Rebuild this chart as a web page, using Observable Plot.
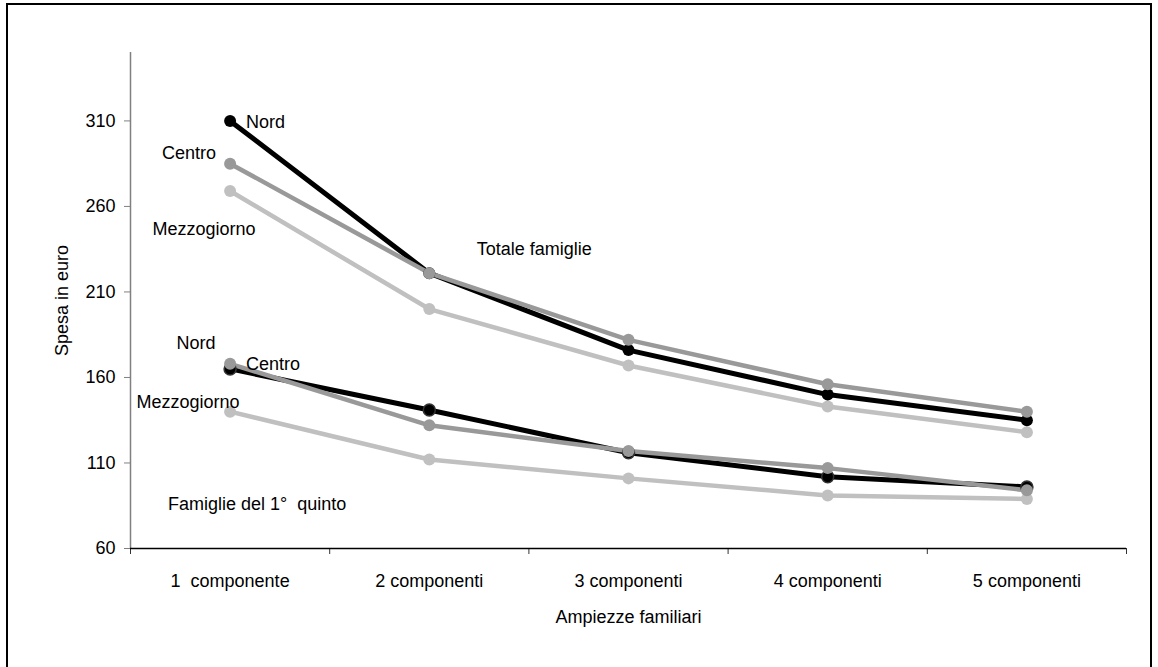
<!DOCTYPE html>
<html>
<head>
<meta charset="utf-8">
<script src="https://cdn.jsdelivr.net/npm/d3@7"></script>
<script src="https://cdn.jsdelivr.net/npm/@observablehq/plot@0.6"></script>
<style>
  html, body { margin: 0; padding: 0; background: #fff; }
  #wrap { position: relative; width: 1158px; height: 667px; overflow: hidden; }
  #border { position: absolute; left: 6px; top: 3px; width: 1142px; height: 700px; border: 2px solid #000; box-sizing: content-box; }
  #chart { position: absolute; left: 0; top: 0; }
</style>
</head>
<body>
<div id="wrap"><div id="border"></div><div id="chart"></div></div>
<script>
const categories = ["1  componente", "2 componenti", "3 componenti", "4 componenti", "5 componenti"];
const seriesNames = ["Nord", "Centro", "Mezzogiorno"];
const totNord   = [310, 221, 176, 150, 135];
const totCentro = [285, 221, 182, 156, 140];
const totMezz   = [269, 200, 167, 143, 128];
const q1Nord    = [165, 141, 116, 102, 96];
const q1Centro  = [168, 132, 117, 107, 94];
const q1Mezz    = [140, 112, 101, 91, 89];
const yTicks = [60, 110, 160, 210, 260, 310];

const colors = {Nord: "#000000", Centro: "#999999", Mezzogiorno: "#c0c0c0"};

function rows(group, name, values) {
  return values.map((v, i) => ({group, name, i, x: i + 0.5, y: v}));
}
const drawOrder = [
  ["tot", "Mezzogiorno", totMezz], ["tot", "Nord", totNord], ["tot", "Centro", totCentro],
  ["q1", "Mezzogiorno", q1Mezz], ["q1", "Nord", q1Nord], ["q1", "Centro", q1Centro]
];
const series = drawOrder.map(([g, n, v]) => rows(g, n, v));

// annotation labels (category index, value, pixel offset)
const labels = [
  {text: "Nord", i: 0, y: 309, dx: 16, anchor: "start"},
  {text: "Centro", i: 0, y: 291, dx: -41, anchor: "middle"},
  {text: "Mezzogiorno", i: 0, y: 246.5, dx: -26, anchor: "middle"},
  {text: "Totale famiglie", i: 1, y: 235, dx: 105, anchor: "middle"},
  {text: "Nord", i: 0, y: 180, dx: -34, anchor: "middle"},
  {text: "Centro", i: 0, y: 167.6, dx: 43, anchor: "middle"},
  {text: "Mezzogiorno", i: 0, y: 145.4, dx: -42, anchor: "middle"},
  {text: "Famiglie del 1°  quinto", i: 0, y: 85.7, dx: 27, anchor: "middle"}
];

const marks = [];
marks.push(Plot.ruleX([0], {y1: 60, y2: 350, stroke: "#808080", strokeWidth: 1.5}));
marks.push(Plot.axisY({ticks: yTicks, tickSize: 6, tickPadding: 9, fontSize: 18, stroke: "#808080",
  label: "Spesa in euro", labelAnchor: "center", labelArrow: "none", labelOffset: 75}));
marks.push(Plot.axisX({ticks: [0, 1, 2, 3, 4, 5], tickSize: 6, tickFormat: () => "", stroke: "#333", label: null}));
marks.push(Plot.axisX({ticks: [0.5, 1.5, 2.5, 3.5, 4.5], tickSize: 0, tickPadding: 26, fontSize: 18,
  tickFormat: d => categories[Math.floor(d)], label: "Ampiezze familiari", labelAnchor: "center", labelArrow: "none", labelOffset: 74}));
marks.push(Plot.ruleY([60], {x1: 0, x2: 5, stroke: "#000", strokeWidth: 1.5}));
for (const s of series) {
  const name = s[0].name;
  marks.push(Plot.line(s, {x: "x", y: "y", stroke: colors[name], strokeWidth: name === "Nord" ? 5 : 4.5}));
}
for (const s of series) {
  const name = s[0].name;
  const isQ1Nord = s[0].group === "q1" && name === "Nord";
  marks.push(Plot.dot(s, {x: "x", y: "y", r: 6, fill: colors[name], stroke: isQ1Nord ? "#333" : null, strokeWidth: 1.5}));
}
for (const l of labels) {
  marks.push(Plot.text([l], {x: d => d.i + 0.5, y: "y", text: "text", dx: l.dx, textAnchor: l.anchor, fontSize: 18, fill: "#000"}));
}

const chart = Plot.plot({
  width: 1158,
  height: 667,
  marginLeft: 130,
  marginRight: 32,
  marginTop: 52,
  marginBottom: 119,
  style: {fontFamily: "'Liberation Sans', Arial, sans-serif", background: "transparent", color: "#000", overflow: "visible"},
  x: {type: "linear", domain: [0, 5]},
  y: {type: "linear", domain: [60, 350]},
  marks
});
document.getElementById("chart").appendChild(chart);
</script>
</body>
</html>
